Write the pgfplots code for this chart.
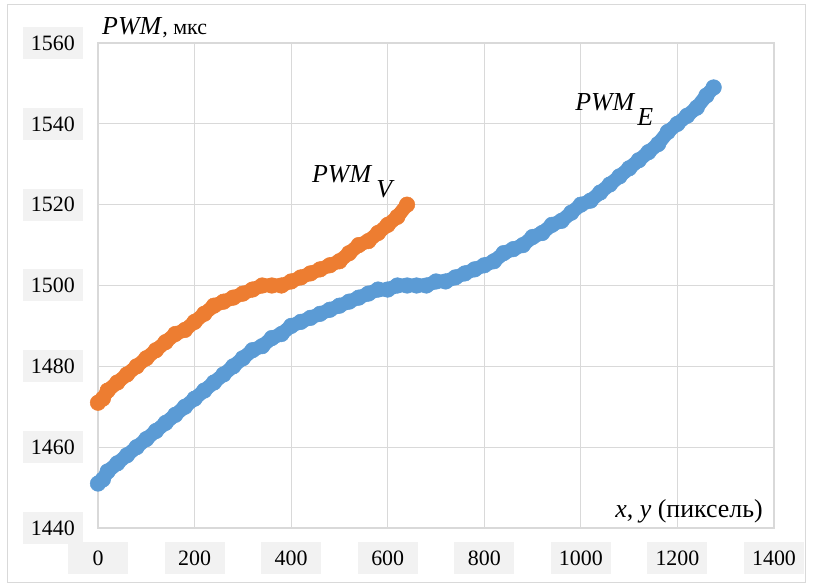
\documentclass[border=0pt]{standalone}
\usepackage{pgfplots}
\pgfplotsset{compat=1.18}
\usepackage[no-math]{fontspec}
\setmainfont{Liberation Serif}
\definecolor{cBlue}{HTML}{5B9BD5}
\definecolor{cOrange}{HTML}{ED7D31}
\definecolor{cGrid}{HTML}{D9D9D9}
\definecolor{cBox}{HTML}{F2F2F2}
\begin{document}
\begin{tikzpicture}
\begin{axis}[
  width=676bp, height=485bp, scale only axis,
  xmin=0, xmax=1400, ymin=1440, ymax=1560,
  xtick={0,200,400,600,800,1000,1200,1400}, ytick={1440,1460,1480,1500,1520,1540,1560},
  /pgf/number format/assume math mode=true,
  /pgf/number format/set thousands separator={},
  grid=major, major grid style={color=cGrid, line width=1.2bp},
  axis line style={color=cGrid, line width=1.2bp},
  major tick length=0pt,
  ticklabel style={font=\fontsize{22}{24}\selectfont, fill=cBox, inner sep=0pt,
    minimum width=60bp, minimum height=32bp},
  yticklabel style={xshift=-15bp},
  xticklabel style={yshift=-14bp},
  clip=false,
]
\coordinate (O) at (rel axis cs:0,0);
\addplot[color=cOrange, line width=14bp, line join=round, line cap=round,
  mark=*, mark size=7.8bp, mark options={line width=0.5bp, fill=cOrange}] coordinates {
(0,1471)(10,1472)(20,1474)(40,1476)(60,1478)(80,1480)(100,1482)(120,1484)
(140,1486)(160,1488)(180,1489)(200,1491)(220,1493)(240,1495)(260,1496)
(280,1497)(300,1498)(320,1499)(340,1500)(360,1500)(380,1500)(400,1501)
(420,1502)(440,1503)(460,1504)(480,1505)(500,1506)(520,1508)(540,1510)
(560,1511)(580,1513)(600,1515)(620,1517)(640,1520)
};
\addplot[color=cBlue, line width=14bp, line join=round, line cap=round,
  mark=*, mark size=7.8bp, mark options={line width=0.5bp, fill=cBlue}] coordinates {
(0,1451)(10,1452)(20,1454)(40,1456)(60,1458)(80,1460)(100,1462)(120,1464)
(140,1466)(160,1468)(180,1470)(200,1472)(220,1474)(240,1476)(260,1478)
(280,1480)(300,1482)(320,1484)(340,1485)(360,1487)(380,1488)(400,1490)
(420,1491)(440,1492)(460,1493)(480,1494)(500,1495)(520,1496)(540,1497)
(560,1498)(580,1499)(600,1499)(620,1500)(640,1500)(660,1500)(680,1500)
(700,1501)(720,1501)(740,1502)(760,1503)(780,1504)(800,1505)(820,1506)
(840,1508)(860,1509)(880,1510)(900,1512)(920,1513)(940,1515)(960,1516)
(980,1518)(1000,1520)(1020,1521)(1040,1523)(1060,1525)(1080,1527)
(1100,1529)(1120,1531)(1140,1533)(1160,1535)(1180,1538)(1200,1540)
(1220,1542)(1240,1544)(1260,1547)(1275,1549)
};
\node[anchor=base west, inner sep=0pt, font=\fontsize{26}{28}\selectfont]
  at (axis cs:443,1525.4) {\textit{PWM}\hspace{4bp}\raisebox{-15bp}{\textit{V}}};
\node[anchor=base west, inner sep=0pt, font=\fontsize{26}{28}\selectfont]
  at (axis cs:988,1543.4) {\textit{PWM}\hspace{2bp}\raisebox{-15bp}{\textit{E}}};
\node[anchor=base west, inner sep=0pt]
  at ([shift={(4bp,8bp)}]rel axis cs:0,1) {\fontsize{26}{28}\selectfont\textit{PWM}\fontsize{22}{24}\selectfont, мкс};
\node[anchor=base east, inner sep=0pt, font=\fontsize{26}{28}\selectfont]
  at ([shift={(-11bp,11bp)}]rel axis cs:1,0) {\textit{x}, \textit{y} (пиксель)};
\end{axis}
\draw[cGrid, line width=1bp] ([shift={(-90bp,-54bp)}]O) rectangle ([shift={(707bp,523bp)}]O);
\path ([shift={(-98bp,-59bp)}]O) rectangle ([shift={(715bp,528bp)}]O);
\end{tikzpicture}
\end{document}
